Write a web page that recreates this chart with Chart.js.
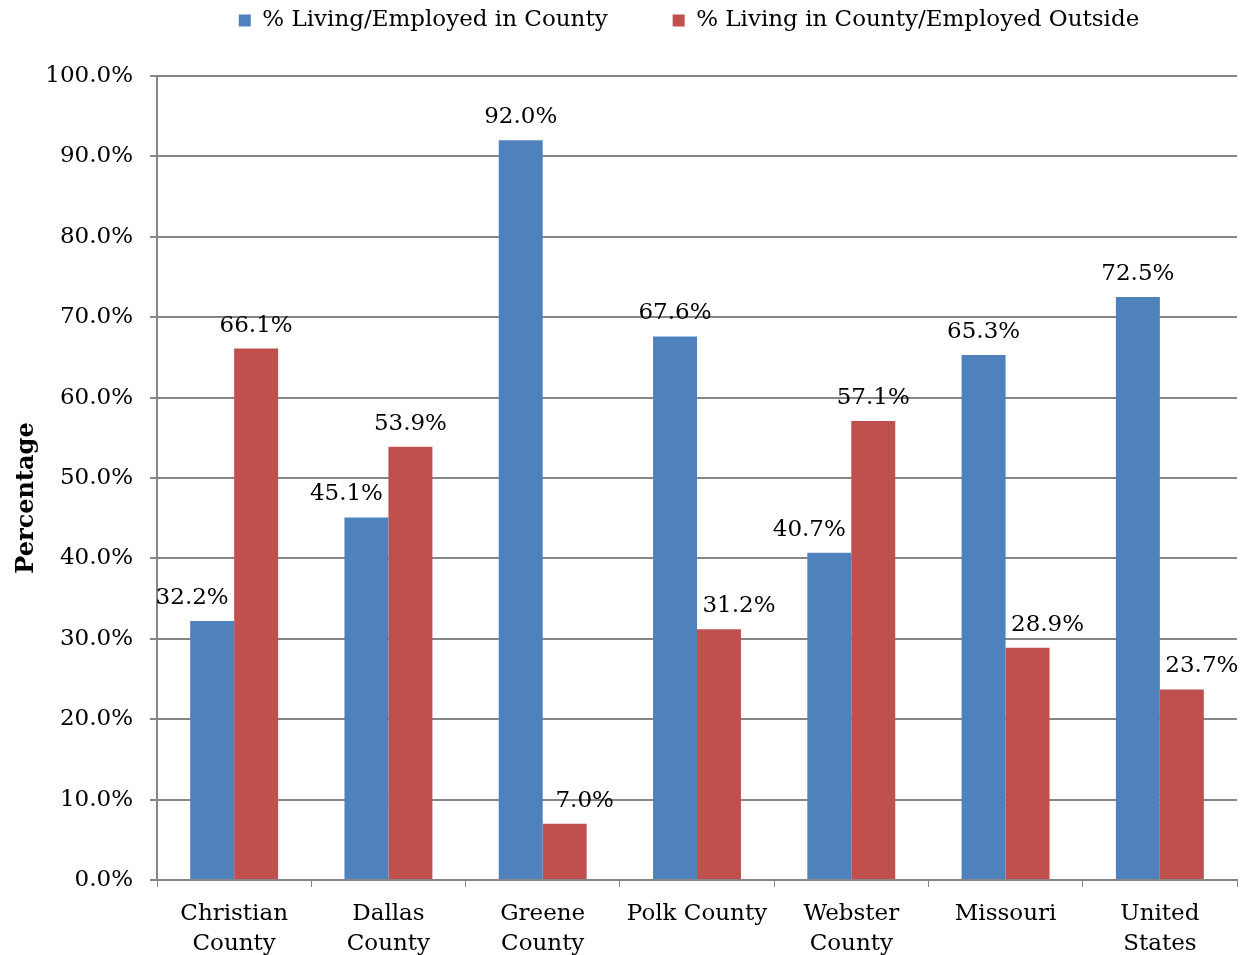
<!DOCTYPE html>
<html><head><meta charset="utf-8">
<script src="https://cdn.jsdelivr.net/npm/chart.js@4/dist/chart.umd.min.js"></script>
<style>html,body{margin:0;padding:0;background:#fff}#wrap{width:1249px;height:955px}</style>
</head><body><div id="wrap"><canvas id="c" width="1249" height="955"></canvas></div>
<script>
const categories = [["Christian","County"],["Dallas","County"],["Greene","County"],"Polk County",["Webster","County"],"Missouri",["United","States"]];
const seriesNames = ["% Living/Employed in County","% Living in County/Employed Outside"];
const livingEmployedIn = [32.2, 45.1, 92.0, 67.6, 40.7, 65.3, 72.5];
const livingEmployedOutside = [66.1, 53.9, 7.0, 31.2, 57.1, 28.9, 23.7];
const yTicks = [0,10,20,30,40,50,60,70,80,90,100];

const FONT = "'DejaVu Serif', serif";
const GRID = '#868686';

const legendFix = {
  id: 'legendFix',
  beforeInit(chart) {
    const lg = chart.legend;
    const origFit = lg.fit;
    lg.fit = function() { origFit.call(this); this.height = 76; };
    const origDraw = lg._draw;
    lg._draw = function() {
      const ctx = this.ctx; ctx.save(); ctx.translate(-8, -56); origDraw.apply(this, arguments); ctx.restore();
    };
  },
  beforeDraw(chart) {
    const y = chart.scales.y;
    if (y && !y._titleShifted) {
      const orig = y.drawTitle;
      y.drawTitle = function() {
        const ctx = this.ctx; ctx.save(); ctx.translate(0, 20); orig.apply(this, arguments); ctx.restore();
      };
      y._titleShifted = true;
    }
  }
};

const dataLabels = {
  id: 'dataLabels',
  afterDatasetsDraw(chart) {
    const ctx = chart.ctx;
    ctx.save();
    ctx.font = "23px " + FONT;
    ctx.fillStyle = '#000';
    ctx.textAlign = 'center';
    ctx.textBaseline = 'middle';
    chart.data.datasets.forEach((ds, di) => {
      const meta = chart.getDatasetMeta(di);
      const other = chart.data.datasets[1 - di].data;
      meta.data.forEach((bar, i) => {
        const v = ds.data[i];
        let dx = 0;
        if (v < other[i]) dx = di === 0 ? -20 : 20;
        ctx.fillText(v.toFixed(1) + '%', bar.x + dx, bar.y - 23);
      });
    });
    ctx.restore();
  }
};

new Chart(document.getElementById('c'), {
  type: 'bar',
  data: {
    labels: categories,
    datasets: [
      { label: seriesNames[0], data: livingEmployedIn, backgroundColor: '#4F81BD' },
      { label: seriesNames[1], data: livingEmployedOutside, backgroundColor: '#C0504D' }
    ]
  },
  options: {
    responsive: false,
    animation: false,
    devicePixelRatio: 1,
    layout: { padding: { left: 0, right: 12, top: 0, bottom: 0 } },
    datasets: { bar: { categoryPercentage: 0.57, barPercentage: 1.0 } },
    plugins: {
      legend: {
        position: 'top',
        fullSize: false,
        labels: { boxWidth: 12, boxHeight: 12, padding: 65, color: '#000', font: { family: FONT, size: 23 } }
      },
      tooltip: { enabled: false }
    },
    scales: {
      x: {
        grid: { display: true, drawOnChartArea: false, drawTicks: true, tickLength: 7, color: GRID, tickColor: GRID, offset: true },
        border: { color: GRID, width: 2 },
        ticks: { color: '#000', maxRotation: 0, minRotation: 0, padding: 12, font: { family: FONT, size: 23, lineHeight: 1.3 } },
        afterFit(s) { s.height = 75; }
      },
      y: {
        min: 0, max: 100,
        afterBuildTicks(s) { s.ticks = yTicks.map(v => ({ value: v })); },
        grid: { color: GRID, lineWidth: 2, tickLength: 7, tickColor: GRID },
        border: { color: GRID, width: 2 },
        ticks: { color: '#000', padding: 17, font: { family: FONT, size: 23 }, callback: v => v.toFixed(1) + '%' },
        title: { display: true, text: 'Percentage', color: '#000', padding: { top: 12, bottom: 0 }, font: { family: FONT, size: 24, weight: 'bold' } },
        afterFit(s) { s.width = 157; }
      }
    }
  },
  plugins: [legendFix, dataLabels]
});
</script></body></html>
